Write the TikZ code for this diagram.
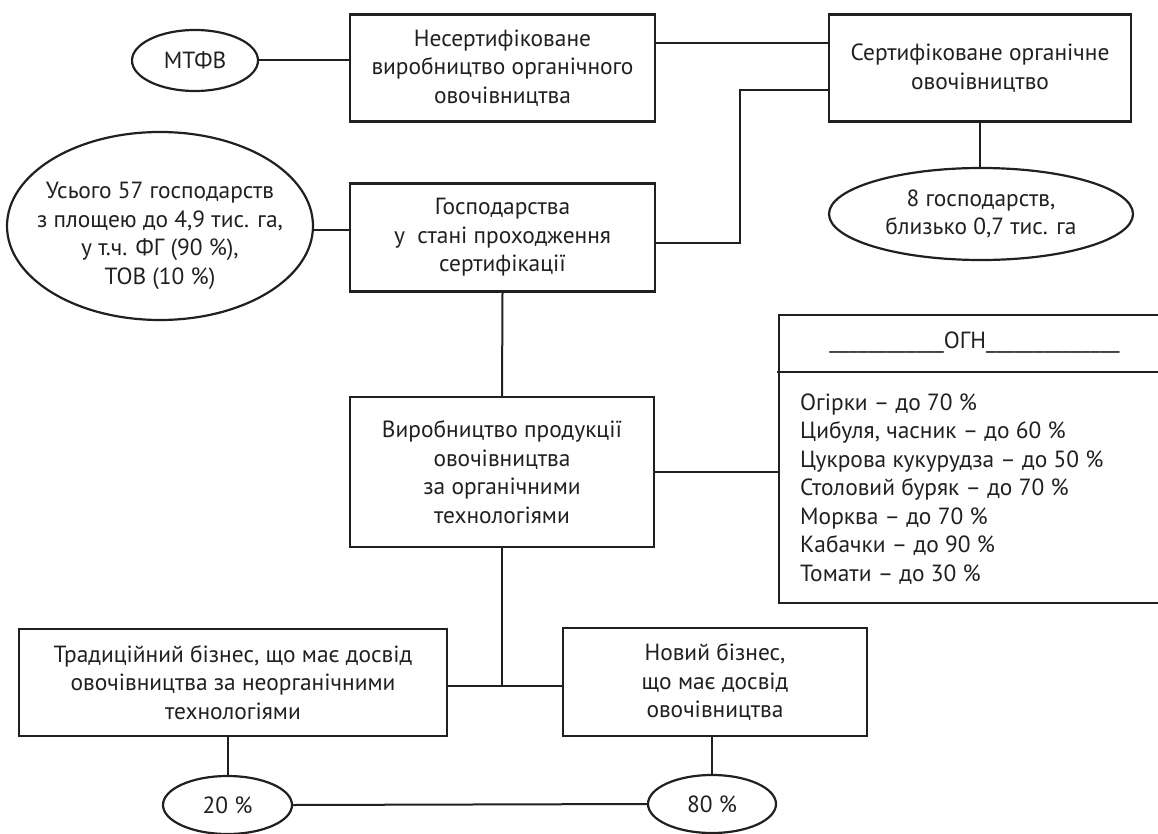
\documentclass[tikz,border=0pt]{standalone}
\usepackage{fontspec}
\setmainfont{PT Sans}
\usetikzlibrary{shapes.geometric}
\definecolor{ink}{HTML}{231F20}
\tikzset{
  box/.style={draw=ink,line width=2.2pt,rectangle,inner sep=0pt,align=center,text=ink},
  oval/.style={draw=ink,line width=2.2pt,ellipse,inner sep=0pt,align=center,text=ink},
  conn/.style={draw=ink,line width=2pt},
  txt/.style={inner sep=0pt,align=center,text=ink}
}
\begin{document}
\begin{tikzpicture}[x=1pt,y=-1pt,font=\fontsize{23.4}{28.5}\selectfont]
\useasboundingbox (0,0) rectangle (1158,834);
% nodes
\node[oval,minimum width=126pt,minimum height=61pt] (mtfv) at (195,60.5) {МТФВ};
\node[box,minimum width=305pt,minimum height=107pt] (b1) at (502.5,68) {Несертифіковане\\виробництво органічного\\овочівництва};
\node[box,minimum width=302pt,minimum height=107pt] (b2) at (980,68) {Сертифіковане органічне\\овочівництво};
\node[oval,minimum width=306pt,minimum height=188pt] (e57) at (160,226) {};
\node[txt] (t57) at (160,236) {Усього 57 господарств\\з площею до 4,9 тис. га,\\у т.ч. ФГ (90 \%),\\ТОВ (10 \%)};
\node[box,minimum width=305pt,minimum height=108pt] (b3) at (502.5,237.5) {Господарства\\у\ \ стані проходження\\сертифікації};
\node[oval,minimum width=304pt,minimum height=92pt] (e8) at (981,214) {8 господарств,\\близько 0,7 тис. га};
\node[box,minimum width=304pt,minimum height=150pt] (b4) at (502,472) {Виробництво продукції\\овочівництва\\за органічними\\технологіями};
\node[box,minimum width=400pt,minimum height=288pt] (ogn) at (979,459) {};
\node[txt] (ognh) at (974.5,343) {\_\_\_\_\_\_\_\_\_\_\_\_ОГН\_\_\_\_\_\_\_\_\_\_\_\_\_\_};
\node[txt,align=left,anchor=west] (list) at (800,489) {Огірки – до 70 \%\\Цибуля, часник – до 60 \%\\Цукрова кукурудза – до 50 \%\\Столовий буряк – до 70 \%\\Морква – до 70 \%\\Кабачки – до 90 \%\\Томати – до 30 \%};
\node[box,minimum width=428pt,minimum height=107pt] (b5) at (233,682.5) {Традиційний бізнес, що має досвід\\овочівництва за неорганічними\\технологіями};
\node[box,minimum width=304pt,minimum height=108pt] (b6) at (715,682) {Новий бізнес,\\що має досвід\\овочівництва};
\node[oval,minimum width=129pt,minimum height=58pt] (e20) at (227.5,805) {20 \%};
\node[oval,minimum width=128pt,minimum height=58pt] (e80) at (712,804) {80 \%};
\coordinate (j) at (502,686);
\coordinate (k) at (740,90);
% connectors
\draw[conn] (mtfv.east) -- (mtfv.east -| b1.west);
\draw[conn] ([yshift=25pt]b1.east) -- ([yshift=25pt]b2.west);
\draw[conn] (k -| b2.west) -- (k) |- ([yshift=-5.5pt]b3.east);
\draw[conn] (b2.south) -- (b2.south |- e8.north);
\draw[conn] (e57.east |- 0,230) -- (b3.west |- 0,230);
\draw[conn] (b3.south) -- (b4.north);
\draw[conn] (b4.east) -- (b4.east -| ogn.west);
\draw[conn] ([xshift=-1pt]ogn.north west |- 0,372) -- ([xshift=1pt]ogn.north east |- 0,372);
\draw[conn] (b4.south) -- (j);
\draw[conn] (b5.east |- j) -- (b6.west |- j);
\draw[conn] (e20.north |- b5.south) -- (e20.north);
\draw[conn] (e80.north |- b6.south) -- (e80.north);
\draw[conn] (e20.east) -- (e80.west);
\end{tikzpicture}
\end{document}
